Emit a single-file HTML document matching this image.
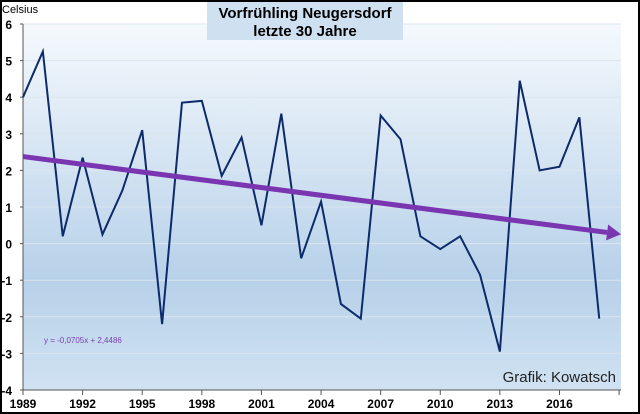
<!DOCTYPE html>
<html><head><meta charset="utf-8"><style>
body{margin:0;background:#fff}
svg{display:block;font-family:"Liberation Sans",sans-serif}
</style></head><body>
<svg width="640" height="414">
<defs>
<linearGradient id="bg" x1="0" y1="0" x2="0" y2="1">
<stop offset="0" stop-color="#f5f9fd"/><stop offset="0.7" stop-color="#b7d1e9"/><stop offset="1" stop-color="#d0e2f2"/>
</linearGradient>
</defs>
<rect x="1" y="1" width="638" height="412" fill="#fff" stroke="#000" stroke-width="2"/>
<rect x="23" y="24" width="598" height="366" fill="url(#bg)"/>
<g id="grid"></g>
<rect x="207" y="2" width="196" height="38" fill="#cfe0f1"/>
<text x="305" y="18" text-anchor="middle" font-size="15" font-weight="bold">Vorfrühling Neugersdorf</text>
<text x="305" y="36" text-anchor="middle" font-size="15" font-weight="bold">letzte 30 Jahre</text>
<text x="2" y="13" font-size="11">Celsius</text>
<g id="axes"></g>
<polyline id="series" fill="none" stroke="#0d2a6b" stroke-width="2"/>
<g id="trend"></g>
<text x="44" y="343" font-size="8" fill="#7a3fb0">y = -0,0705x + 2,4486</text>
<text x="616" y="382" text-anchor="end" font-size="15" fill="#222">Grafik: Kowatsch</text>
</svg>
<script>
const years=[1989,1990,1991,1992,1993,1994,1995,1996,1997,1998,1999,2000,2001,2002,2003,2004,2005,2006,2007,2008,2009,2010,2011,2012,2013,2014,2015,2016,2017,2018];
const values=[4.0,5.25,0.2,2.35,0.25,1.45,3.1,-2.2,3.85,3.9,1.85,2.9,0.5,3.55,-0.4,1.15,-1.65,-2.05,3.5,2.85,0.2,-0.15,0.2,-0.85,-2.95,4.45,2.0,2.1,3.45,-2.05];
const yTicks=[-4,-3,-2,-1,0,1,2,3,4,5,6];
const xTickLabels=[1989,1992,1995,1998,2001,2004,2007,2010,2013,2016];
const trendSlope=-0.0705, trendIntercept=2.4486;
const NS="http://www.w3.org/2000/svg";
const X=yr=>23+(yr-1989)*19.87;
const Y=v=>390-(v+4)*36.6;
function mk(t,a,p){const e=document.createElementNS(NS,t);for(const k in a)e.setAttribute(k,a[k]);p.appendChild(e);return e;}
const grid=document.getElementById('grid'),axes=document.getElementById('axes');
yTicks.forEach(v=>{
 if(v>-4){const g=mk('line',{x1:23,x2:621,y1:Y(v),y2:Y(v),stroke:'#dce6f0','stroke-width':1},grid);
 
 }
 const t=mk('text',{x:12,y:Y(v)+5,'text-anchor':'end','font-size':12,'font-weight':'bold'},axes);t.textContent=v;
 
 
 mk('line',{x1:20,x2:23,y1:Y(v),y2:Y(v),stroke:'#555'},axes);
});
mk('line',{x1:23,x2:23,y1:24,y2:390,stroke:'#555'},axes);
mk('line',{x1:23,x2:621,y1:390,y2:390,stroke:'#555'},axes);
for(let yr=1989;yr<=2019;yr+=3){mk('line',{x1:X(yr),x2:X(yr),y1:390,y2:395,stroke:'#555'},axes);}
xTickLabels.forEach(yr=>{const t=mk('text',{x:X(yr),y:408,'text-anchor':'middle','font-size':12,'font-weight':'bold'},axes);t.textContent=yr;
 
 });
document.getElementById('series').setAttribute('points',values.map((v,i)=>X(years[i])+','+Y(v)).join(' '));
const tr=document.getElementById('trend');
const v0=trendSlope*1+trendIntercept, vEnd=trendSlope*31.1+trendIntercept;
const x0=X(1989), x1=621, y0=Y(v0), y1=Y(vEnd);
const ang=Math.atan2(y1-y0,x1-x0), ex=x1-14*Math.cos(ang), ey=y1-14*Math.sin(ang);
const l=mk('line',{x1:x0,y1:y0,x2:ex,y2:ey,stroke:'#7a35b0','stroke-width':5},tr);


const px=Math.sin(ang)*8, py=-Math.cos(ang)*8;
const h=mk('polygon',{points:`${x1},${y1} ${ex+px},${ey+py} ${ex-px},${ey-py}`,fill:'#7a35b0'},tr);


</script>
</body></html>
